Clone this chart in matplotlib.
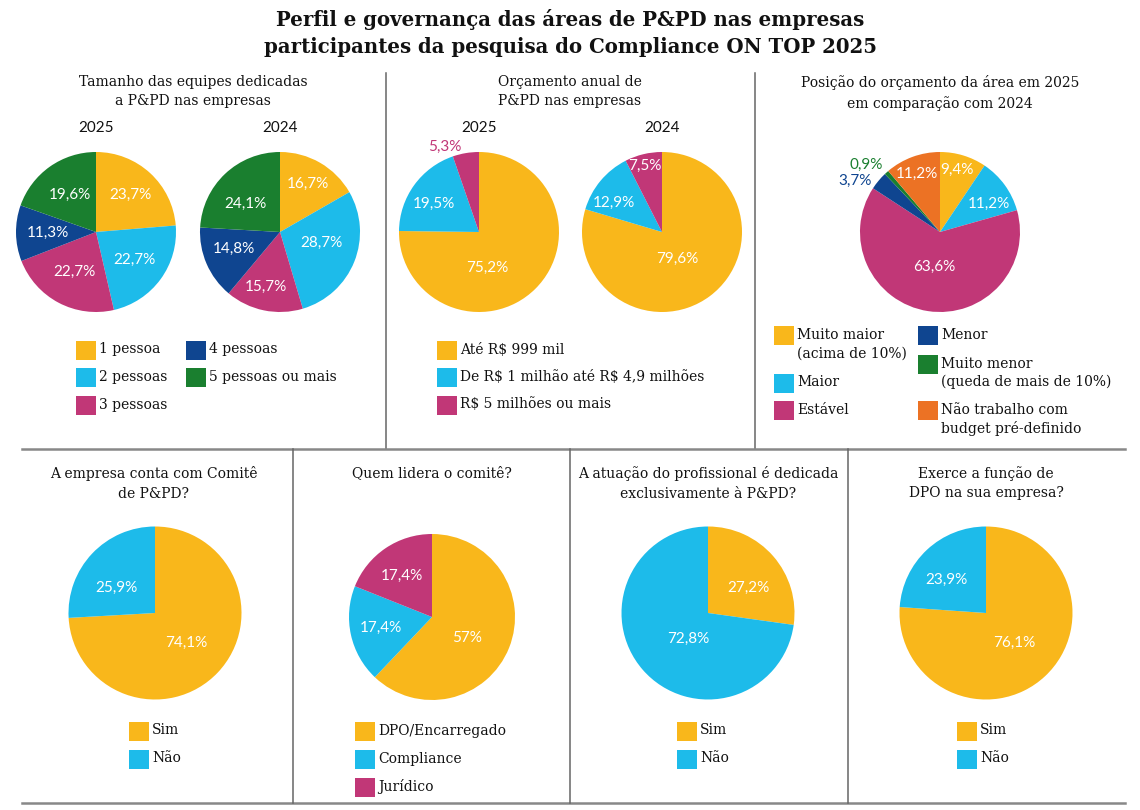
import matplotlib.pyplot as plt
from matplotlib.patches import Rectangle
import numpy as np

# cores das categorias
AMARELO = "#F9B71B"
CIANO = "#1DBBEA"
MAGENTA = "#C13777"
AZUL = "#0F4590"
VERDE = "#1A7F2F"
LARANJA = "#EC7224"

# Tamanho das equipes
equipes_labels = ["1 pessoa", "2 pessoas", "3 pessoas", "4 pessoas", "5 pessoas ou mais"]
equipes_2025 = [23.7, 22.7, 22.7, 11.3, 19.6]
equipes_2024 = [16.7, 28.7, 15.7, 14.8, 24.1]

# Orçamento anual
orc_labels = ["Até R$ 999 mil", "De R$ 1 milhão até R$ 4,9 milhões", "R$ 5 milhões ou mais"]
orc_2025 = [75.2, 19.5, 5.3]
orc_2024 = [79.6, 12.9, 7.5]

# Posição do orçamento 2025 vs 2024
pos_labels = ["Muito maior\n(acima de 10%)", "Maior", "Estável", "Menor",
              "Muito menor\n(queda de mais de 10%)", "Não trabalho com\nbudget pré-definido"]
pos_vals = [9.4, 11.2, 63.6, 3.7, 0.9, 11.2]

# perguntas de baixo
comite_labels = ["Sim", "Não"]
comite_vals = [74.1, 25.9]
lider_labels = ["DPO/Encarregado", "Compliance", "Jurídico"]
lider_vals = [57, 17.4, 17.4]
exclusivo_labels = ["Sim", "Não"]
exclusivo_vals = [27.2, 72.8]
dpo_labels = ["Sim", "Não"]
dpo_vals = [76.1, 23.9]

W, H = 1140, 810
SERIF = "DejaVu Serif"
SANS = "Lato"

fig = plt.figure(figsize=(W / 100, H / 100), dpi=100)
bg = fig.add_axes([0, 0, 1, 1])
bg.set_xlim(0, W)
bg.set_ylim(H, 0)
bg.axis("off")


def fmt(v):
    return ("%g" % v).replace(".", ",") + "%"


def pizza(cx, cy, r, vals, cores, dist, shift=None, tcor=None):
    ax = fig.add_axes([(cx - r) / W, 1 - (cy + r) / H, 2 * r / W, 2 * r / H])
    wedges, _ = ax.pie(vals, colors=cores, startangle=90, counterclock=False,
                       wedgeprops=dict(linewidth=0))
    ax.set_xlim(-1, 1)
    ax.set_ylim(-1, 1)
    ax.set_aspect("equal")
    ax.axis("off")
    if shift is None:
        shift = [0] * len(vals)
    if tcor is None:
        tcor = ["white"] * len(vals)
    for w, v, d, s, c in zip(wedges, vals, dist, shift, tcor):
        ang = np.radians((w.theta1 + w.theta2) / 2 + s)
        ax.text(d * np.cos(ang), d * np.sin(ang), fmt(v), ha="center", va="center",
                color=c, fontsize=11, family=SANS)
    return ax


def legenda(x, y, labels, cores, dy=27.5, y_list=None):
    for i, (lab, c) in enumerate(zip(labels, cores)):
        yy = y + i * dy if y_list is None else y_list[i]
        bg.add_patch(Rectangle((x, yy - 9.5), 20, 19, color=c, lw=0))
        bg.text(x + 23, yy - 7.5, lab, ha="left", va="top", fontsize=10,
                family=SERIF, color="#111111", linespacing=1.4, parse_math=False)


def titulo(x, y, s):
    bg.text(x, y, s, ha="center", va="top", fontsize=10, family=SERIF,
            color="#111111", linespacing=1.5)


# título geral
bg.text(570, 9, "Perfil e governança das áreas de P&PD nas empresas\n"
        "participantes da pesquisa do Compliance ON TOP 2025",
        ha="center", va="top", fontsize=14.2, fontweight="bold", family=SERIF,
        color="#111111", linespacing=1.45)

# linhas divisórias
lc = "#666666"
bg.plot([386, 386], [73, 449], color=lc, lw=1.1)
bg.plot([755, 755], [73, 449], color=lc, lw=1.1)
bg.plot([22, 1125], [449, 449], color="#888888", lw=1.8)
bg.plot([22, 1125], [803, 803], color="#888888", lw=1.8)
for xv in [293, 570, 848]:
    bg.plot([xv, xv], [449, 803], color=lc, lw=1.1)

cores5 = [AMARELO, CIANO, MAGENTA, AZUL, VERDE]
cores3 = [AMARELO, CIANO, MAGENTA]
cores6 = [AMARELO, CIANO, MAGENTA, AZUL, VERDE, LARANJA]
cores2 = [AMARELO, CIANO]

# painel 1
titulo(193, 75, "Tamanho das equipes dedicadas\na P&PD nas empresas")
bg.text(96, 128, "2025", ha="center", va="center", fontsize=11, family=SANS, color="#111111")
bg.text(280, 128, "2024", ha="center", va="center", fontsize=11, family=SANS, color="#111111")
pizza(96, 232, 80, equipes_2025, cores5, [0.63, 0.59, 0.57, 0.6, 0.57])
pizza(280, 232, 80, equipes_2024, cores5, [0.7, 0.54, 0.71, 0.62, 0.56], [0, 7, -3, -3, 8])
legenda(76, 350, equipes_labels[:3], cores5[:3])
legenda(186, 350, equipes_labels[3:], cores5[3:])

# painel 2
titulo(570, 75, "Orçamento anual de\nP&PD nas empresas")
bg.text(479, 128, "2025", ha="center", va="center", fontsize=11, family=SANS, color="#111111")
bg.text(662, 128, "2024", ha="center", va="center", fontsize=11, family=SANS, color="#111111")
pizza(479, 232, 80, orc_2025, cores3, [0.46, 0.67, 1.15], [-31, 4, 12],
      ["white", "white", MAGENTA])
pizza(662, 232, 80, orc_2024, cores3, [0.38, 0.7, 0.85], [-7, 9, 1])
legenda(437, 350, orc_labels, cores3)

# painel 3
titulo(940, 75, "Posição do orçamento da área em 2025\nem comparação com 2024")
pizza(940, 232, 80, pos_vals, cores6, [0.8, 0.7, 0.44, 1.24, 1.25, 0.78],
      [2, -6, 0, 9, 6, 2], ["white", "white", "white", AZUL, VERDE, "white"])
legenda(774, 0, pos_labels[:3], cores6[:3], y_list=[335.5, 383, 410])
legenda(918, 0, pos_labels[3:], cores6[3:], y_list=[335.5, 364, 410])

# painel 4
titulo(154, 466, "A empresa conta com Comitê\nde P&PD?")
pizza(155, 613, 86.5, comite_vals, cores2, [0.5, 0.53], [0, 10])
legenda(129, 731, comite_labels, cores2, dy=28)

# painel 5
titulo(432, 466, "Quem lidera o comitê?")
pizza(432, 617, 83, lider_vals, cores3, [0.49, 0.63, 0.61], [-9, 0, 2])
legenda(355, 731, lider_labels, cores3, dy=28)

# painel 6
titulo(708, 466, "A atuação do profissional é dedicada\nexclusivamente à P&PD?")
pizza(708, 613, 86.5, exclusivo_vals, cores2, [0.55, 0.38], [-9, 11])
legenda(677, 731, exclusivo_labels, cores2, dy=28)

# painel 7
titulo(986, 466, "Exerce a função de\nDPO na sua empresa?")
pizza(986, 613, 86.5, dpo_vals, cores2, [0.48, 0.59], [0, 7])
legenda(957, 731, dpo_labels, cores2, dy=28)

fig.savefig("out.png", dpi=100)
